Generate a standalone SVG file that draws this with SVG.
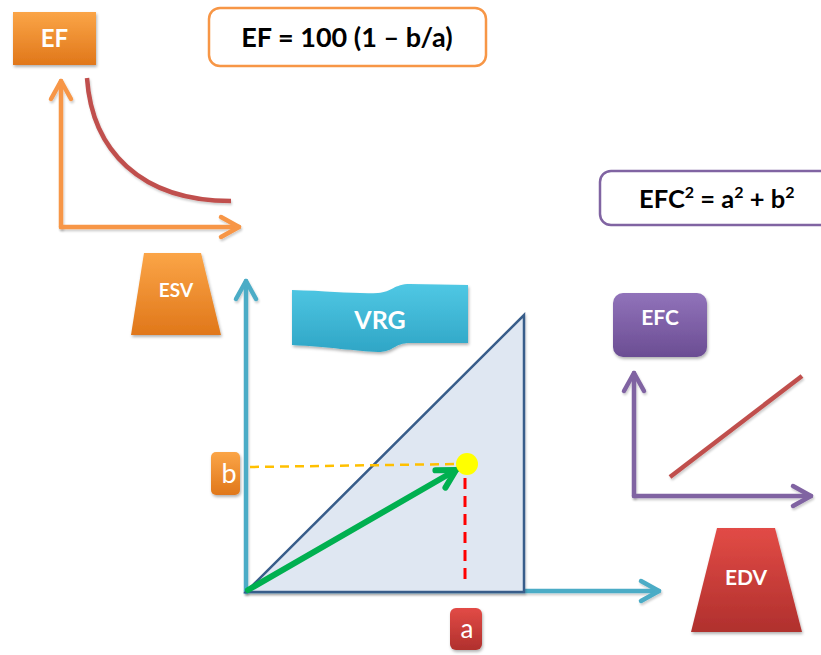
<svg xmlns="http://www.w3.org/2000/svg" width="821" height="655" viewBox="0 0 821 655">
<defs>
<linearGradient id="gOrange" x1="0" y1="0" x2="0" y2="1"><stop offset="0" stop-color="#FBA547"/><stop offset="1" stop-color="#E0771A"/></linearGradient>
<linearGradient id="gRed" x1="0" y1="0" x2="0" y2="1"><stop offset="0" stop-color="#E24B46"/><stop offset="1" stop-color="#B0302D"/></linearGradient>
<linearGradient id="gPurple" x1="0" y1="0" x2="0" y2="1"><stop offset="0" stop-color="#9173BA"/><stop offset="1" stop-color="#6B4D93"/></linearGradient>
<linearGradient id="gTeal" x1="0" y1="0" x2="0" y2="1"><stop offset="0" stop-color="#50C8E4"/><stop offset="1" stop-color="#2FA6C6"/></linearGradient>
<filter id="sh" x="-20%" y="-20%" width="140%" height="150%"><feDropShadow dx="1" dy="2" stdDeviation="1.5" flood-color="#000" flood-opacity="0.3"/></filter>
<filter id="lsh" filterUnits="userSpaceOnUse" x="0" y="0" width="821" height="655"><feDropShadow dx="1" dy="2" stdDeviation="1.2" flood-color="#000" flood-opacity="0.2"/></filter>
<marker id="aOrange" markerUnits="userSpaceOnUse" markerWidth="30" markerHeight="30" refX="0" refY="0" orient="auto" overflow="visible"><path d="M-18,-10 L0,0 L-18,10" fill="none" stroke="#F79646" stroke-width="4.5" stroke-linecap="round" stroke-linejoin="round"/></marker>
<marker id="aTeal" markerUnits="userSpaceOnUse" markerWidth="30" markerHeight="30" refX="0" refY="0" orient="auto" overflow="visible"><path d="M-18,-10 L0,0 L-18,10" fill="none" stroke="#4BACC6" stroke-width="4.5" stroke-linecap="round" stroke-linejoin="round"/></marker>
<marker id="aPurple" markerUnits="userSpaceOnUse" markerWidth="30" markerHeight="30" refX="0" refY="0" orient="auto" overflow="visible"><path d="M-18,-10 L0,0 L-18,10" fill="none" stroke="#8064A2" stroke-width="4.5" stroke-linecap="round" stroke-linejoin="round"/></marker>
<marker id="aGreen" markerUnits="userSpaceOnUse" markerWidth="30" markerHeight="30" refX="0" refY="0" orient="auto" overflow="visible"><path d="M-18,-10 L0,0 L-18,10" fill="none" stroke="#00B050" stroke-width="6" stroke-linecap="round" stroke-linejoin="round"/></marker>
</defs>
<style>
.lbl{font-family:Lato,"Liberation Sans",sans-serif;font-weight:bold;fill:#fff;text-anchor:middle}
.lt{font-family:Lato,"Liberation Sans",sans-serif;fill:#fff;text-anchor:middle}
.fm{font-family:Lato,"Liberation Sans",sans-serif;font-weight:bold;fill:#000}
.ax{fill:none;stroke-width:4.5;stroke-linecap:round}
</style>

<g id="connectors">
  <path class="ax" d="M61,227 L61,81" stroke="#F79646" marker-end="url(#aOrange)" filter="url(#lsh)"/>
  <path class="ax" d="M61,227 L239,227" stroke="#F79646" marker-end="url(#aOrange)" filter="url(#lsh)"/>
  <path d="M87,78 C92,150 140,201 231,201" fill="none" stroke="#C0504D" stroke-width="4.5" filter="url(#lsh)"/>
  <path class="ax" d="M246,592 L246,281" stroke="#4BACC6" marker-end="url(#aTeal)" filter="url(#lsh)"/>
  <path class="ax" d="M246,591 L659,591" stroke="#4BACC6" marker-end="url(#aTeal)" filter="url(#lsh)"/>
  <path class="ax" d="M634,496 L634,373" stroke="#8064A2" marker-end="url(#aPurple)" filter="url(#lsh)"/>
  <path class="ax" d="M634,496 L811,496" stroke="#8064A2" marker-end="url(#aPurple)" filter="url(#lsh)"/>
  <path d="M670,477 L802,376" fill="none" stroke="#C0504D" stroke-width="4.5" filter="url(#lsh)"/>
</g>

<g id="triangle">
  <path d="M246,592 L524,315 L524,592 Z" fill="#DFE7F2" stroke="#385D8A" stroke-width="2.5" stroke-linejoin="miter" filter="url(#lsh)"/>
</g>

<g id="guides">
  <path d="M250,467 L458,464" fill="none" stroke="#FFC000" stroke-width="2.5" stroke-dasharray="9,6"/>
  <path d="M465,478 L465,582" fill="none" stroke="#FF0000" stroke-width="3" stroke-dasharray="11,7"/>
  <path d="M248,590 L456,470" fill="none" stroke="#00B050" stroke-width="6" stroke-linecap="round" marker-end="url(#aGreen)"/>
  <circle cx="467" cy="464" r="11" fill="#FFFF00"/>
</g>

<g id="node-EF">
  <rect x="13" y="12" width="83" height="53" fill="url(#gOrange)" filter="url(#sh)"/>
  <text class="lbl" x="54.5" y="47" font-size="24">EF</text>
</g>

<g id="node-formula1">
  <rect x="209" y="8" width="277" height="58" rx="11" fill="#fff" stroke="#F79646" stroke-width="2.5"/>
  <text class="fm" x="347" y="47" font-size="27" text-anchor="middle">EF = 100 (1 – b/a)</text>
</g>

<g id="node-formula2">
  <rect x="600" y="171" width="240" height="54" rx="11" fill="#fff" stroke="#8064A2" stroke-width="2.5"/>
  <text class="fm" x="639" y="208" font-size="25.5">EFC<tspan font-size="16" dy="-10">2</tspan><tspan dy="10"> = a</tspan><tspan font-size="16" dy="-10">2</tspan><tspan dy="10"> + b</tspan><tspan font-size="16" dy="-10">2</tspan></text>
</g>

<g id="node-ESV">
  <path d="M144,253 L201,253 L221,335 L131,335 Z" fill="url(#gOrange)" filter="url(#sh)"/>
  <text class="lbl" x="176" y="297" font-size="19">ESV</text>
</g>

<g id="node-VRG">
  <path d="M292,290 C330,291 355,294 378,293 C392,292 394,284 410,284 L468,285 L468,343 L410,343 C394,343 394,352 378,352 C355,351 330,347 292,345 Z" fill="url(#gTeal)" filter="url(#sh)"/>
  <text class="lbl" x="380" y="329" font-size="25">VRG</text>
</g>

<g id="node-b">
  <rect x="211" y="452" width="29" height="43" rx="5" fill="url(#gOrange)" filter="url(#sh)"/>
  <text class="lt" x="229" y="483" font-size="27">b</text>
</g>

<g id="node-a">
  <rect x="450" y="608" width="32" height="42" rx="6" fill="url(#gRed)" filter="url(#sh)"/>
  <text class="lt" x="467" y="638" font-size="26">a</text>
</g>

<g id="node-EFC">
  <rect x="613" y="293" width="94" height="64" rx="10" fill="url(#gPurple)" filter="url(#sh)"/>
  <text class="lbl" x="660" y="325" font-size="21">EFC</text>
</g>

<g id="node-EDV">
  <path d="M717,528 L775,528 L802,632 L691,632 Z" fill="url(#gRed)" filter="url(#sh)"/>
  <text class="lbl" x="746" y="585" font-size="21">EDV</text>
</g>
</svg>
